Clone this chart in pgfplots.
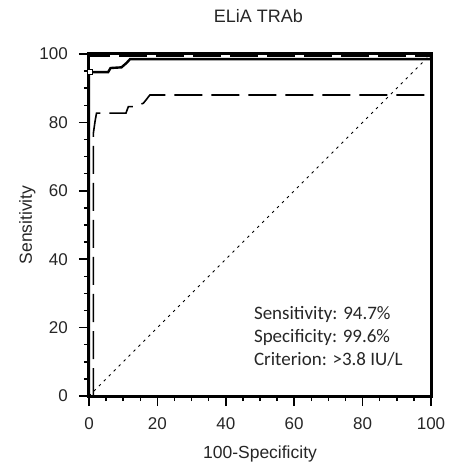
\documentclass[border=0pt]{standalone}
\usepackage{fontspec}
\setmainfont{Liberation Sans}
\newfontfamily\calibri{Carlito}
\usepackage{pgfplots}
\pgfplotsset{compat=1.18}

\begin{document}
\begin{tikzpicture}
\useasboundingbox (-89bp,-69bp) rectangle (361bp,396bp);
\begin{axis}[
  at={(0,0)}, anchor=south west,
  scale only axis, width=342bp, height=342bp,
  xmin=0, xmax=100, ymin=0, ymax=100,
  xtick={0,20,...,100}, ytick={0,20,...,100},
  xtick pos=bottom, ytick pos=left,
  minor tick num=3,
  tick align=outside,
  major tick length=10bp, minor tick length=5bp,
  tick style={line width=1.5bp, black},
  axis line style={line width=3bp},
  clip=false,
  /pgf/number format/assume math mode=true,
  tick label style={font=\fontsize{17bp}{20bp}\selectfont, text=black!85},
  xticklabel style={anchor=north, inner sep=0pt, yshift=-11bp},
  yticklabel style={anchor=east, inner sep=0pt, xshift=-11bp},
  label style={font=\fontsize{17.5bp}{21bp}\selectfont, text=black!85},
  xlabel={100-Specificity},
  xlabel style={at={(0.5,0)}, anchor=base, yshift=-62bp},
  title={ELiA TRAb},
  title style={font=\fontsize{18bp}{21bp}\selectfont, text=black!85, at={(0.495,1)}, anchor=base, yshift=26bp},
]
% chance line
\addplot[line width=1bp, dash pattern=on 2.5bp off 4.5bp] coordinates {(0,0) (100,100)};
% lower confidence bound
\addplot[line width=1.6bp, dash pattern=on 28bp off 9bp] coordinates {
  (1.3,0) (1.3,77) (1.8,80.5) (2.2,82.7) (10.8,82.7) (11.5,84.6) (13,84.6)
  (15.9,85.6) (17.8,88) (100,88)};
% upper confidence bound
\addplot[line width=2bp, dash pattern=on 28bp off 9bp] coordinates {
  (0,0) (0,99.4) (100,99.4)};
% ROC curve
\addplot[line width=2.4bp] coordinates {
  (0,0) (0,94.7) (5.6,94.7) (6.3,95.9) (9.5,96.1) (11,97.4) (12,98.5) (100,98.5) (100,100)};
% criterion point
\addplot[only marks, mark=square*, mark size=2.4bp,
  mark options={fill=white, draw=black, line width=0.8bp}] coordinates {(0.35,94.8)};
\node[anchor=base west, inner sep=0pt, font=\calibri\fontsize{19bp}{22bp}\selectfont, text=black!85]
  at (axis cs:48.2,22.5) {Sensitivity: 94.7\%};
\node[anchor=base west, inner sep=0pt, font=\calibri\fontsize{19bp}{22bp}\selectfont, text=black!85]
  at (axis cs:48.2,15.5) {Specificity: 99.6\%};
\node[anchor=base west, inner sep=0pt, font=\calibri\fontsize{19bp}{22bp}\selectfont, text=black!85]
  at (axis cs:48.2,8.8) {Criterion: >3.8 IU/L};
\end{axis}
\node[rotate=90, anchor=base, inner sep=0pt, font=\fontsize{17.5bp}{21bp}\selectfont, text=black!85]
  at (-57bp,171bp) {Sensitivity};
\end{tikzpicture}
\end{document}
